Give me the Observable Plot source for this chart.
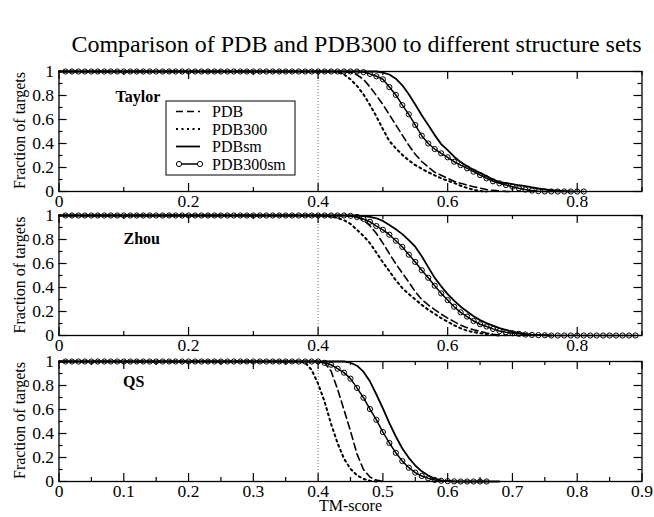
<!DOCTYPE html>
<html><head><meta charset="utf-8">
<script src="https://cdn.jsdelivr.net/npm/d3@7"></script>
<script src="https://cdn.jsdelivr.net/npm/@observablehq/plot@0.6"></script>
<style>
body{margin:0;background:#fff;}
#chart{position:relative;width:654px;height:517px;font-family:"Liberation Serif","Times New Roman",serif;background:#fff;}
</style></head><body><div id="chart"></div>
<script>
// ---- data ----
const tmScore = [0,0.01,0.02,0.03,0.04,0.05,0.06,0.07,0.08,0.09,
0.1,0.11,0.12,0.13,0.14,0.15,0.16,0.17,0.18,0.19,
0.2,0.21,0.22,0.23,0.24,0.25,0.26,0.27,0.28,0.29,
0.3,0.31,0.32,0.33,0.34,0.35,0.36,0.37,0.38,0.39,
0.4,0.41,0.42,0.43,0.44,0.45,0.46,0.47,0.48,0.49,
0.5,0.51,0.52,0.53,0.54,0.55,0.56,0.57,0.58,0.59,
0.6,0.61,0.62,0.63,0.64,0.65,0.66,0.67,0.68,0.69,
0.7,0.71,0.72,0.73,0.74,0.75,0.76,0.77,0.78,0.79,
0.8,0.81,0.82,0.83,0.84,0.85,0.86,0.87,0.88,0.89,0.9];

const setNames = ["PDB", "PDB300", "PDBsm", "PDB300sm"];
const panelNames = ["Taylor", "Zhou", "QS"];
const cutoff = [0.4];

const taylorPDB = [1,1,1,1,1,1,1,1,1,1, 1,1,1,1,1,1,1,1,1,1, 1,1,1,1,1,1,1,1,1,1, 1,1,1,1,1,1,1,1,1,1, 1,1,1,1,1,
0.993,0.972,0.935,0.872,0.80,0.725,0.64,0.555,0.47,0.385,0.31,0.25,0.205,0.16,0.135,0.11,0.085,0.068,0.053,0.04,0.028,0.016,0.009,0.004,0.001,0];
const taylorPDB300 = [1,1,1,1,1,1,1,1,1,1, 1,1,1,1,1,1,1,1,1,1, 1,1,1,1,1,1,1,1,1,1, 1,1,1,1,1,1,1,1,1,1, 1,1,1,
0.995,0.975,0.935,0.88,0.81,0.72,0.625,0.52,0.42,0.36,0.305,0.26,0.22,0.19,0.16,0.135,0.11,0.09,0.072,0.048,0.03,0.014,0.004,0];
const taylorPDBsm = [1,1,1,1,1,1,1,1,1,1, 1,1,1,1,1,1,1,1,1,1, 1,1,1,1,1,1,1,1,1,1, 1,1,1,1,1,1,1,1,1,1, 1,1,1,1,1,1,1,1,1,1,
0.99,0.975,0.94,0.885,0.81,0.725,0.635,0.555,0.47,0.395,0.345,0.29,0.245,0.21,0.18,0.155,0.128,0.10,0.078,0.07,0.062,0.052,0.045,0.035,0.025,0.018,0.012,0.007,0.003,0];
const taylorPDB300sm = [1,1,1,1,1,1,1,1,1,1, 1,1,1,1,1,1,1,1,1,1, 1,1,1,1,1,1,1,1,1,1, 1,1,1,1,1,1,1,1,1,1, 1,1,1,1,1,1,1,
0.995,0.98,0.96,0.935,0.87,0.805,0.72,0.643,0.554,0.465,0.40,0.354,0.318,0.285,0.248,0.22,0.193,0.165,0.137,0.11,0.085,0.068,0.054,0.04,0.027,0.016,0.008,0.003,0,0,0,0,0,0,0];

const zhouPDB = [1,1,1,1,1,1,1,1,1,1, 1,1,1,1,1,1,1,1,1,1, 1,1,1,1,1,1,1,1,1,1, 1,1,1,1,1,1,1,1,1,1, 1,1,1,1,1,
0.997,0.985,0.962,0.915,0.85,0.77,0.682,0.597,0.52,0.445,0.365,0.30,0.255,0.215,0.178,0.145,0.116,0.086,0.065,0.048,0.034,0.021,0.011,0.004,0];
const zhouPDB300 = [1,1,1,1,1,1,1,1,1,1, 1,1,1,1,1,1,1,1,1,1, 1,1,1,1,1,1,1,1,1,1, 1,1,1,1,1,1,1,1,1,1, 1,
0.997,0.99,0.98,0.96,0.93,0.88,0.83,0.77,0.69,0.61,0.535,0.46,0.395,0.345,0.30,0.255,0.215,0.18,0.145,0.115,0.085,0.06,0.04,0.028,0.02,0.012,0.005,0];
const zhouPDBsm = [1,1,1,1,1,1,1,1,1,1, 1,1,1,1,1,1,1,1,1,1, 1,1,1,1,1,1,1,1,1,1, 1,1,1,1,1,1,1,1,1,1, 1,1,1,1,1,1,1,
0.995,0.988,0.977,0.955,0.92,0.885,0.845,0.795,0.74,0.66,0.57,0.48,0.41,0.345,0.29,0.24,0.2,0.16,0.128,0.103,0.082,0.062,0.047,0.033,0.022,0.014,0.008,0.005,0.002,0];
const zhouPDB300sm = [1,1,1,1,1,1,1,1,1,1, 1,1,1,1,1,1,1,1,1,1, 1,1,1,1,1,1,1,1,1,1, 1,1,1,1,1,1,1,1,1,1, 1,1,1,1,1,
0.997,0.988,0.972,0.948,0.912,0.881,0.84,0.79,0.738,0.674,0.613,0.544,0.481,0.415,0.351,0.295,0.24,0.193,0.158,0.121,0.094,0.075,0.055,0.038,0.027,0.019,0.014,0.008,0.005,0.003,0.002,
0,0,0,0,0,0,0,0,0,0,0,0,0,0];

const qsPDB = [1,1,1,1,1,1,1,1,1,1, 1,1,1,1,1,1,1,1,1,1, 1,1,1,1,1,1,1,1,1,1, 1,1,1,1,1,1,1,1,1,1, 1,
0.99,0.92,0.77,0.596,0.42,0.23,0.10,0.037,0.012,0];
const qsPDB300 = [1,1,1,1,1,1,1,1,1,1, 1,1,1,1,1,1,1,1,1,1, 1,1,1,1,1,1,1,1,1,1, 1,1,1,1,1,1,1,1,
0.99,0.93,0.815,0.665,0.48,0.32,0.19,0.105,0.052,0.022,0.006,0];
const qsPDBsm = [1,1,1,1,1,1,1,1,1,1, 1,1,1,1,1,1,1,1,1,1, 1,1,1,1,1,1,1,1,1,1, 1,1,1,1,1,1,1,1,1,1, 1,1,1,1,1,
0.99,0.965,0.915,0.835,0.725,0.61,0.486,0.375,0.275,0.197,0.133,0.085,0.05,0.025,0.01,0.004,0.001,0,0,0,0,0,0,0];
const qsPDB300sm = [1,1,1,1,1,1,1,1,1,1, 1,1,1,1,1,1,1,1,1,1, 1,1,1,1,1,1,1,1,1,1, 1,1,1,1,1,1,1,1,1,1, 1,
0.989,0.973,0.94,0.907,0.857,0.78,0.698,0.604,0.514,0.412,0.321,0.239,0.17,0.115,0.074,0.046,0.027,0.013,0.006,0.003,0.001,0,0,0,0,0];

// tick values
const xTicksWide = [0, 0.2, 0.4, 0.6, 0.8];
const xMinorWide = [0.1, 0.3, 0.5, 0.7, 0.9];
const xTicksQS = [0, 0.1, 0.2, 0.3, 0.4, 0.5, 0.6, 0.7, 0.8, 0.9];
const xMinorQS = [0.05, 0.15, 0.25, 0.35, 0.45, 0.55, 0.65, 0.75, 0.85];
const yTicks = [0, 0.2, 0.4, 0.6, 0.8, 1];
const yMinor = [0.1, 0.3, 0.5, 0.7, 0.9];

// ---- layout ----
const W = 654, ML = 58.5, MR = 12.5, IH = 120, MT = 12, MB = 30;
const IW = W - ML - MR;
const FONT = "Liberation Serif";
const MAJ = 8, MIN = 4;

const styles = {
  PDB: {strokeWidth: 1.6, strokeDasharray: "7,4"},
  PDB300: {strokeWidth: 2, strokeDasharray: "2,3.5"},
  PDBsm: {strokeWidth: 1.8},
  PDB300sm: {strokeWidth: 1.5}
};

const chart = document.getElementById("chart");

function panel(name, values, top, xLab, xMin, labelDx, labelDy) {
  const rows = setNames.flatMap((s, k) => values[k].map((v, i) => ({x: tmScore[i], y: v, set: s})));
  const of = s => rows.filter(r => r.set === s);
  const svg = Plot.plot({
    width: W, height: MT + IH + MB,
    marginLeft: ML, marginRight: MR, marginTop: MT, marginBottom: MB,
    x: {domain: [0, 0.9]}, y: {domain: [0, 1]},
    style: {fontFamily: FONT, fontSize: "17.5px", background: "transparent", overflow: "visible", color: "black"},
    marks: [
      Plot.ruleX(cutoff, {x: d => d, stroke: "#777", strokeWidth: 1, strokeDasharray: "1,2"}),
      ...setNames.map(s => Plot.line(of(s), {x: "x", y: "y", stroke: "black", ...styles[s]})),
      Plot.dot(of("PDB300sm").filter(r => r.x > 0), {x: "x", y: "y", r: 2.6, stroke: "black", strokeWidth: 1, fill: "none"}),
      Plot.frame({stroke: "black", strokeWidth: 1.3}),
      Plot.tickX(xLab, {x: d => d, insetTop: IH - MAJ, stroke: "black", strokeWidth: 1.2}),
      Plot.tickX(xMin, {x: d => d, insetTop: IH - MIN, stroke: "black", strokeWidth: 1.2}),
      Plot.tickX(xLab, {x: d => d, insetBottom: IH - MAJ, stroke: "black", strokeWidth: 1.2}),
      Plot.tickX(xMin, {x: d => d, insetBottom: IH - MIN, stroke: "black", strokeWidth: 1.2}),
      Plot.tickY(yTicks, {y: d => d, insetRight: IW - MAJ, stroke: "black", strokeWidth: 1.2}),
      Plot.tickY(yMinor, {y: d => d, insetRight: IW - MIN, stroke: "black", strokeWidth: 1.2}),
      Plot.tickY(yTicks, {y: d => d, insetLeft: IW - MAJ, stroke: "black", strokeWidth: 1.2}),
      Plot.tickY(yMinor, {y: d => d, insetLeft: IW - MIN, stroke: "black", strokeWidth: 1.2}),
      Plot.axisX(xLab, {tickSize: 0, tickPadding: 3, tickFormat: d => String(d), label: null, fontFamily: FONT, fontSize: 17.5}),
      Plot.axisY(yTicks, {tickSize: 0, tickPadding: 5, tickFormat: d => String(d), label: null, fontFamily: FONT, fontSize: 17.5}),
      Plot.text([name], {frameAnchor: "top-left", text: d => d, dx: labelDx, dy: labelDy, textAnchor: "start", lineAnchor: "top", fontWeight: "bold", fontSize: 16, fontFamily: FONT})
    ]
  });
  svg.style.position = "absolute";
  svg.style.left = "0px";
  svg.style.top = (top - MT) + "px";
  chart.appendChild(svg);
}

const panelTops = [70.5, 215, 360.5];
panel(panelNames[0], [taylorPDB, taylorPDB300, taylorPDBsm, taylorPDB300sm], panelTops[0], xTicksWide, xMinorWide, 56.5, 19);
panel(panelNames[1], [zhouPDB, zhouPDB300, zhouPDBsm, zhouPDB300sm], panelTops[1], xTicksWide, xMinorWide, 64.5, 17.5);
panel(panelNames[2], [qsPDB, qsPDB300, qsPDBsm, qsPDB300sm], panelTops[2], xTicksQS, xMinorQS, 64, 14.5);

// ---- overlay: title, axis titles, legend ----
const ov = d3.select(chart).append("svg")
  .attr("width", W).attr("height", 517)
  .style("position", "absolute").style("left", "0px").style("top", "0px")
  .attr("font-family", FONT).style("pointer-events", "none");

ov.append("text").attr("x", 356.5).attr("y", 52).attr("text-anchor", "middle")
  .attr("font-family", FONT).attr("font-size", 24).text("Comparison of PDB and PDB300 to different structure sets");

panelTops.forEach(t => {
  ov.append("text").attr("transform", `translate(25,${t + IH / 2}) rotate(-90)`)
    .attr("text-anchor", "middle").attr("font-family", FONT).attr("font-size", 16).text("Fraction of targets");
});
ov.append("text").attr("x", 350.5).attr("y", 511).attr("text-anchor", "middle")
  .attr("font-family", FONT).attr("font-size", 16).text("TM-score");

const lg = ov.append("g");
lg.append("rect").attr("x", 166).attr("y", 101).attr("width", 129).attr("height", 74)
  .attr("fill", "white").attr("stroke", "black").attr("stroke-width", 1);
const legendY = [111.5, 129, 146.5, 164];
setNames.forEach((s, i) => {
  const y = legendY[i];
  const st = styles[s];
  lg.append("line").attr("x1", 176).attr("x2", 200).attr("y1", y).attr("y2", y)
    .attr("stroke", "black").attr("stroke-width", st.strokeWidth)
    .attr("stroke-dasharray", st.strokeDasharray || null);
  if (s === "PDB300sm") {
    [179, 200].forEach(cx => lg.append("circle").attr("cx", cx).attr("cy", y).attr("r", 2.6)
      .attr("fill", "white").attr("stroke", "black").attr("stroke-width", 1));
  }
  lg.append("text").attr("x", 212).attr("y", y + 5.5).attr("font-family", FONT).attr("font-size", 16).text(s);
});
</script></body></html>
